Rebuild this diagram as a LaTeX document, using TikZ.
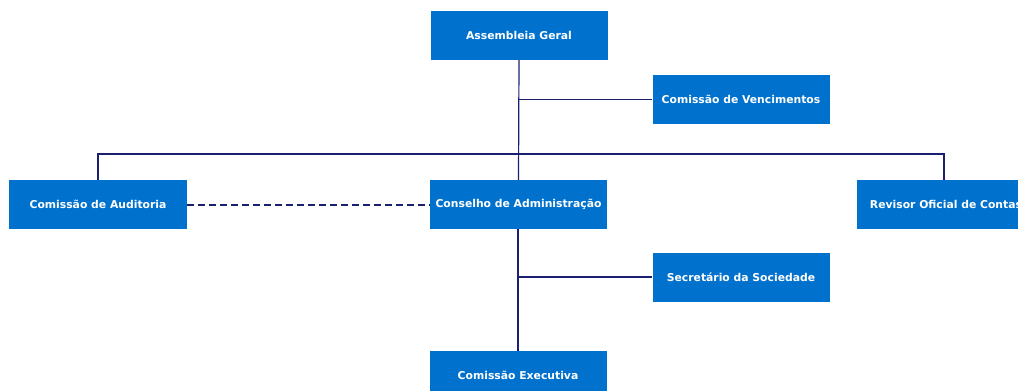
\documentclass[tikz,border=0pt]{standalone}
\usepackage{fontspec}
\setmainfont{DejaVu Sans}
\definecolor{boxblue}{RGB}{0,114,206}
\definecolor{navy}{RGB}{27,32,110}
\begin{document}
\begin{tikzpicture}[x=1pt,y=-1pt,
  orgbox/.style={fill=boxblue, draw=none, text=white, font=\bfseries\fontsize{10.8}{13}\selectfont, minimum width=177pt, minimum height=49pt, inner sep=0pt},
  link/.style={draw=navy, line width=1.2pt},
  dashlink/.style={draw=navy, line width=2pt, dash pattern=on 7pt off 4pt}]
\useasboundingbox (0,0) rectangle (1018,391);
\begin{scope}
\clip (0,0) rectangle (1018,391);
\node[orgbox] (ag) at (519,35.5) {Assembleia Geral};
\node[orgbox] (cv) at (741,99.5) {Comissão de Vencimentos};
\node[orgbox, minimum width=178pt] (ca) at (98,204.5) {Comissão de Auditoria};
\node[orgbox] (cad) at (518.5,204.5) {Conselho de Administração};
\node[orgbox, minimum width=178pt] (roc) at (946,204.5) {Revisor Oficial de Contas};
\node[orgbox] (ss) at (741,277) {Secretário da Sociedade};
\node[orgbox] (ce) at (518,375.5) {Comissão Executiva};
\coordinate (busL) at (98,154);
\coordinate (busR) at (944,154);
\draw[link] (ag.south) -- (cad.north);
\draw[link] (ag.south |- cv.west) -- (cv.west);
\draw[link] (ca.north) -- (busL) -- (busR) -- (busR |- roc.north);
\draw[link] (cad.south -| ce.north) -- (ce.north);
\draw[link] (ce.north |- ss.west) -- (ss.west);
\draw[dashlink] (ca.east) -- (cad.west);
\end{scope}
\end{tikzpicture}
\end{document}
